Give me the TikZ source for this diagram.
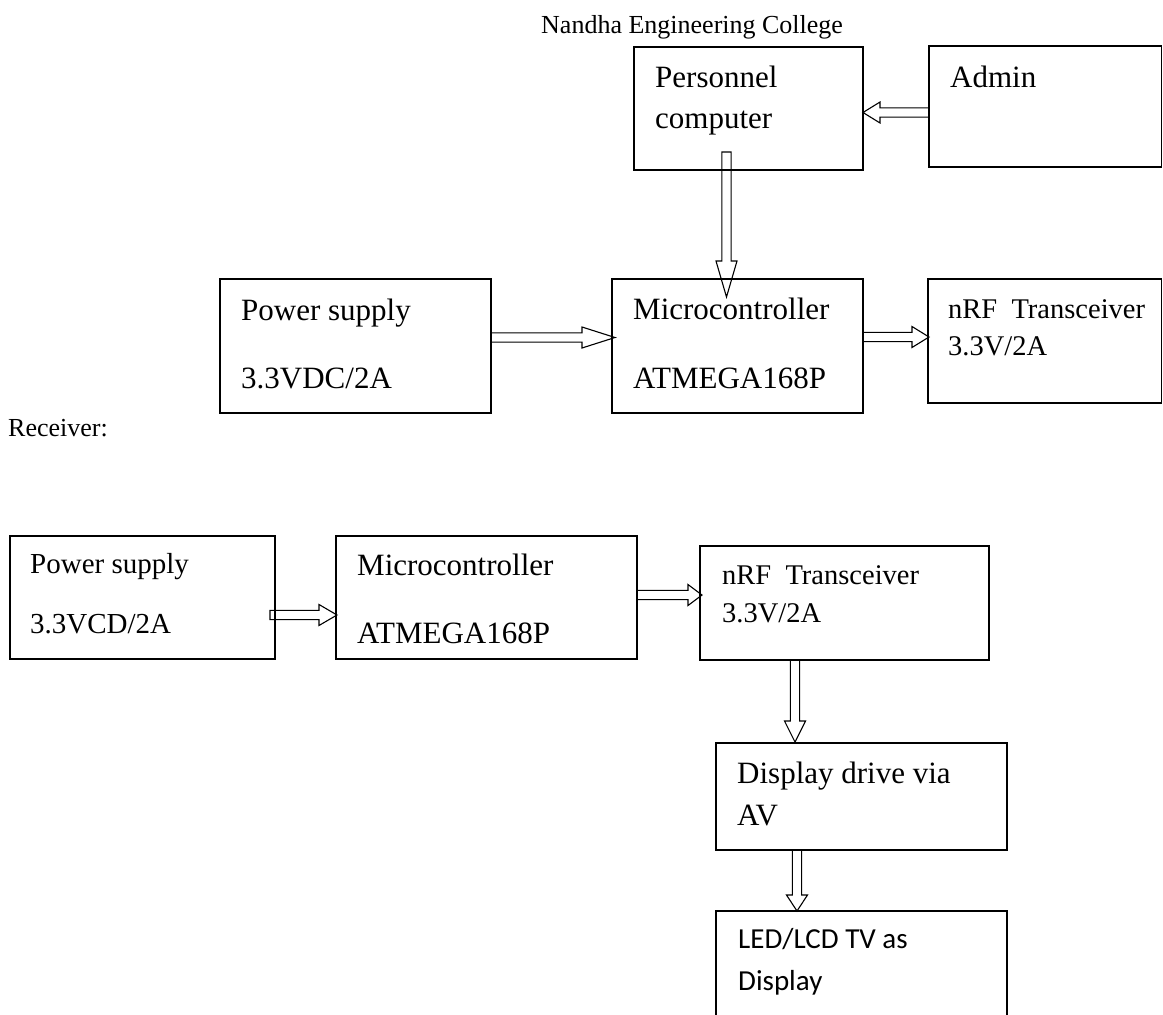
\documentclass[tikz,border=0pt]{standalone}
\usepackage{fontspec}
\setmainfont{Liberation Serif}
\newfontfamily\sansfont{Carlito}
\usetikzlibrary{calc,positioning}

\tikzset{
  blockbox/.style={draw, line width=1.2pt, anchor=north west, inner sep=0pt, outer sep=0pt},
  boxtext/.style={anchor=base west, inner sep=0pt, font=\fontsize{31}{37}\selectfont},
  rxtext/.style={anchor=base west, inner sep=0pt, font=\fontsize{29}{35}\selectfont},
  nrftext/.style={anchor=base west, inner sep=0pt, font=\fontsize{28.5}{34}\selectfont},
  smalltext/.style={anchor=base west, inner sep=0pt, font=\fontsize{26}{31}\selectfont},
  ledtext/.style={anchor=base west, inner sep=0pt, font=\sansfont\fontsize{29}{35}\selectfont},
  arrowline/.style={draw, line width=1.1pt, line join=miter},
}

% hollow block arrow: from, to, head length
\newcommand{\hollowarrow}[3]{%
  \coordinate (ha) at ($(#2)!#3!(#1)$);
  \draw[arrowline] ($(#1)!4.6pt!90:(#2)$) -- ($(ha)!4.6pt!-90:(#1)$) -- ($(ha)!10.5pt!-90:(#1)$)
    -- (#2) -- ($(ha)!10.5pt!90:(#1)$) -- ($(ha)!4.6pt!90:(#1)$) -- ($(#1)!4.6pt!-90:(#2)$) -- cycle;
}

\begin{document}
\begin{tikzpicture}[x=1pt,y=1pt]
\clip (0,0) rectangle (1163,-1015);

% Transmitter
\node[smalltext] (title) at (541,-33) {Nandha Engineering College};

\node[blockbox, minimum width=229pt, minimum height=123pt] (pc) at (634,-47) {};
\node[blockbox, minimum width=232.5pt, minimum height=121pt] (admin) at (929,-46) {};
\node[blockbox, minimum width=271pt, minimum height=134pt] (ps) at (220,-279) {};
\node[blockbox, minimum width=251pt, minimum height=134pt] (mc) at (612,-279) {};
\node[blockbox, minimum width=233.5pt, minimum height=124pt] (nrf) at (928,-279) {};

\node[boxtext] (pcA) at ([shift={(21,-40)}]pc.north west) {Personnel};
\node[boxtext] (pcB) at ([shift={(21,-81)}]pc.north west) {computer};
\node[boxtext] (adminA) at ([shift={(21,-41)}]admin.north west) {Admin};
\node[boxtext] (psA) at ([shift={(21,-41)}]ps.north west) {Power supply};
\node[boxtext] (psB) at ([shift={(21,-109)}]ps.north west) {3.3VDC/2A};
\node[boxtext] (mcA) at ([shift={(21,-40)}]mc.north west) {Microcontroller};
\node[boxtext] (mcB) at ([shift={(21,-109)}]mc.north west) {ATMEGA168P};
\node[nrftext] (nrfA) at ([shift={(20,-39)}]nrf.north west) {nRF\ \ Transceiver};
\node[nrftext] (nrfB) at ([shift={(20,-76)}]nrf.north west) {3.3V/2A};

\coordinate (adS) at ([yshift=-6pt]admin.west);
\coordinate (pcE) at (adS -| pc.east);
\hollowarrow{adS}{pcE}{17pt}
\coordinate (pcS) at ([xshift=-22pt,yshift=18pt]pc.south);
\coordinate (mcN) at ([yshift=-18pt]pcS |- mc.north);
\hollowarrow{pcS}{mcN}{36pt}
\coordinate (psE) at ([yshift=8.5pt]ps.east);
\coordinate (mcW) at ([xshift=3pt]psE -| mc.west);
\hollowarrow{psE}{mcW}{33pt}
\coordinate (mcE) at ([yshift=9pt]mc.east);
\coordinate (nrfW) at ([xshift=1pt]mcE -| nrf.west);
\hollowarrow{mcE}{nrfW}{17pt}

% Receiver
\node[smalltext] (recv) at (8,-436) {Receiver:};

\node[blockbox, minimum width=265pt, minimum height=123pt] (ps2) at (10,-536) {};
\node[blockbox, minimum width=301pt, minimum height=123pt] (mc2) at (336,-536) {};
\node[blockbox, minimum width=289pt, minimum height=114pt] (nrf2) at (700,-546) {};
\node[blockbox, minimum width=291pt, minimum height=107pt] (disp) at (716,-743) {};
\node[blockbox, minimum width=291pt, minimum height=120pt] (led) at (716,-911) {};

\node[rxtext] (ps2A) at ([shift={(20,-37)}]ps2.north west) {Power supply};
\node[rxtext] (ps2B) at ([shift={(20,-97)}]ps2.north west) {3.3VCD/2A};
\node[boxtext] (mc2A) at ([shift={(21,-39)}]mc2.north west) {Microcontroller};
\node[boxtext] (mc2B) at ([shift={(21,-107)}]mc2.north west) {ATMEGA168P};
\node[nrftext] (nrf2A) at ([shift={(22,-38)}]nrf2.north west) {nRF\ \ Transceiver};
\node[nrftext] (nrf2B) at ([shift={(22,-76)}]nrf2.north west) {3.3V/2A};
\node[boxtext] (dispA) at ([shift={(21,-40)}]disp.north west) {Display drive via};
\node[boxtext] (dispB) at ([shift={(21,-82)}]disp.north west) {AV};
\node[ledtext] (ledA) at ([shift={(22,-37)}]led.north west) {LED/LCD TV as};
\node[ledtext] (ledB) at ([shift={(22,-79)}]led.north west) {Display};

\coordinate (ps2E) at ([xshift=-5pt,yshift=-17.5pt]ps2.east);
\coordinate (mc2W) at ([xshift=1pt]ps2E -| mc2.west);
\hollowarrow{ps2E}{mc2W}{18pt}
\coordinate (mc2E) at ([yshift=2.5pt]mc2.east);
\coordinate (nrf2W) at ([xshift=2pt]mc2E -| nrf2.west);
\hollowarrow{mc2E}{nrf2W}{14pt}
\coordinate (nrf2S) at ([xshift=-49.5pt]nrf2.south);
\coordinate (dispN) at ([yshift=1pt]nrf2S |- disp.north);
\hollowarrow{nrf2S}{dispN}{21pt}
\coordinate (dispS) at ([xshift=-64.5pt]disp.south);
\coordinate (ledN) at (dispS |- led.north);
\hollowarrow{dispS}{ledN}{16pt}
\end{tikzpicture}
\end{document}
